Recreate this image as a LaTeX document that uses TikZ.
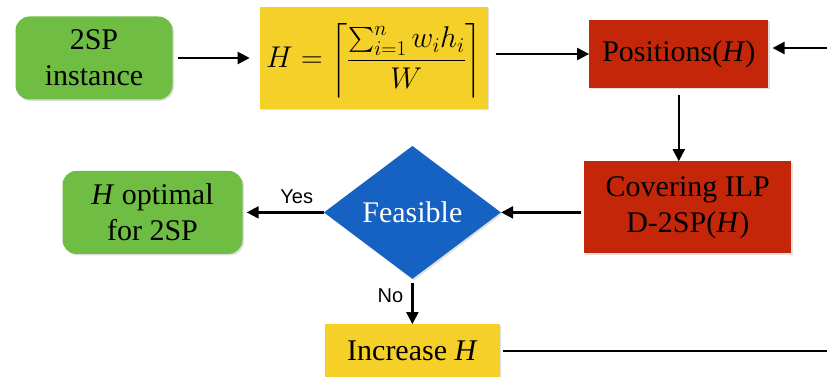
\RequirePackage{fix-cm}
\documentclass[tikz,border=0pt]{standalone}
\usepackage{amsmath}
\usepackage[no-math]{fontspec}
\setmainfont{Liberation Serif}
\newfontfamily\labelfont{Liberation Sans}
\usetikzlibrary{arrows.meta,positioning,shapes.geometric,shadows}
\definecolor{startgreen}{RGB}{112,189,68}
\definecolor{stepyellow}{RGB}{245,208,40}
\definecolor{ilpred}{RGB}{196,38,10}
\definecolor{testblue}{RGB}{22,98,194}

\begin{document}
\begin{tikzpicture}[x=1pt, y=-1pt,
  node distance=80pt,
  big/.style={font=\fontsize{30}{36}\selectfont, align=center, inner sep=0pt},
  shad/.style={drop shadow={shadow xshift=1.5pt, shadow yshift=-1.5pt, opacity=0.25}},
  term/.style={big, shad, fill=startgreen, rounded corners=14pt, minimum width=170pt, minimum height=83pt},
  calc/.style={big, shad, fill=stepyellow},
  ilp/.style={big, shad, fill=ilpred},
  dec/.style={big, shad, diamond, fill=testblue, text=white, minimum width=177pt, minimum height=133pt},
  lab/.style={font=\labelfont\fontsize{20}{24}\selectfont, inner sep=2pt},
  arr/.style={-{Triangle[length=12pt, width=12pt]}, line width=2.2pt}]
\useasboundingbox (0,0) rectangle (827,377);
\node[term, minimum width=157pt] (inst) at (94,58) {2SP\\instance};
\node[calc, right=87pt of inst, minimum width=228pt, minimum height=102pt] (ceil)
  {\raisebox{-10pt}[0pt][0pt]{$H = \left\lceil \dfrac{\textstyle\sum_{i=1}^{n} w_i h_i}{W} \right\rceil$}};
\node[ilp, right=101pt of ceil, yshift=4pt, minimum width=179pt, minimum height=68pt] (pos) {Positions(\textit{H})};
\node[ilp, below=73pt of pos, xshift=9pt, minimum width=207pt, minimum height=92pt] (cov) {Covering ILP\\D-2SP(\textit{H})};
\node[dec, left=83pt of cov, yshift=-5pt] (feas) {Feasible};
\node[term, left=81pt of feas, minimum width=180pt] (opt) {\textit{H} optimal\\for 2SP};
\node[calc, below=45pt of feas, minimum width=175pt, minimum height=54pt] (inc) {Increase \textit{H}};
\draw[arr] ([xshift=5pt]inst.east) -- ([xshift=-10pt]ceil.west);
\draw[arr] ([xshift=8pt]ceil.east |- pos.west) -- (pos.west);
\draw[arr] ([yshift=-7pt]pos.south) -- (pos.south |- cov.north);
\draw[arr] ([xshift=-3pt]cov.west |- feas.east) -- (feas.east);
\draw[arr] (feas.west) -- node[lab, above=6pt, pos=0.35] (yes) {Yes} ([xshift=4pt]opt.east);
\draw[arr] ([yshift=-4pt]feas.south) -- node[lab, left=6pt, pos=0.3] (no) {No} (inc.north);
\draw[line width=2.2pt] ([xshift=3pt]inc.east) -- ++(340,0) coordinate (back);
\draw[arr] (back) |- ([xshift=4pt, yshift=6pt]pos.east);
\end{tikzpicture}
\end{document}
